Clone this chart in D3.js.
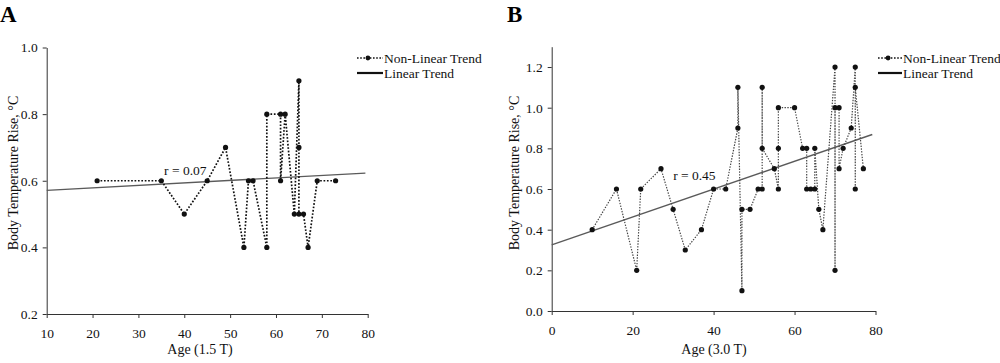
<!doctype html>
<html lang="en">
<head>
<meta charset="utf-8">
<script src="https://d3js.org/d3.v7.min.js"></script>
<title>Body Temperature Rise by Age</title>
<style>
  body { margin: 0; background: #fff; }
  svg { font-family: "Liberation Serif", "DejaVu Serif", serif; }
  .axis path, .axis line { stroke: #333; }
</style>
</head>
<body>
<svg id="chart" width="1000" height="363"></svg>
<script>
// panel A: 1.5 T
const agesA = [21, 35, 40, 45, 49, 53, 54, 55, 58, 58, 61, 61, 62, 64, 65, 65, 65, 66, 67, 69, 73];
const riseA = [0.6, 0.6, 0.5, 0.6, 0.7, 0.4, 0.6, 0.6, 0.4, 0.8, 0.8, 0.6, 0.8, 0.5, 0.9, 0.7, 0.5, 0.5, 0.4, 0.6, 0.6];
const trendA = [[10, 0.571], [79.5, 0.623]];
const xTicksA = [10, 20, 30, 40, 50, 60, 70, 80];
const yTicksA = [0.2, 0.4, 0.6, 0.8, 1.0];

// panel B: 3.0 T
const agesB = [10, 16, 21, 22, 27, 30, 33, 37, 40, 43, 46, 46, 47, 47, 49, 51, 52, 52, 52, 55, 56, 56, 56, 60, 62, 63, 63, 64, 65, 65, 66, 67, 70, 70, 70, 71, 71, 72, 74, 75, 75, 75, 77];
const riseB = [0.4, 0.6, 0.2, 0.6, 0.7, 0.5, 0.3, 0.4, 0.6, 0.6, 0.9, 1.1, 0.1, 0.5, 0.5, 0.6, 0.6, 1.1, 0.8, 0.7, 0.6, 0.8, 1.0, 1.0, 0.8, 0.8, 0.6, 0.6, 0.6, 0.8, 0.5, 0.4, 1.2, 0.2, 1.0, 1.0, 0.7, 0.8, 0.9, 1.2, 0.6, 1.1, 0.7];
const trendB = [[0, 0.325], [79.2, 0.868]];
const xTicksB = [0, 20, 40, 60, 80];
const yTicksB = [0.0, 0.2, 0.4, 0.6, 0.8, 1.0, 1.2];

const legendLabels = ['Non-Linear Trend', 'Linear Trend'];

const svg = d3.select('#chart');

function drawPanel(p) {
  const g = svg.append('g');
  const x = d3.scaleLinear().domain(p.xDomain).range(p.xRange);
  const y = d3.scaleLinear().domain(p.yDomain).range(p.yRange);

  g.append('g')
    .attr('class', 'axis')
    .attr('transform', 'translate(0,' + p.yRange[0] + ')')
    .call(d3.axisBottom(x).tickValues(p.xTicks).tickSize(4).tickSizeOuter(0).tickPadding(9))
    .call(a => a.selectAll('.tick text').attr('dy', '0.85em'));

  g.append('g')
    .attr('class', 'axis')
    .attr('transform', 'translate(' + p.xRange[0] + ',0)')
    .call(d3.axisLeft(y).tickValues(p.yTicks).tickFormat(d3.format('.1f')).tickSize(4).tickSizeOuter(0).tickPadding(5));

  g.selectAll('.axis').attr('font-family', null).attr('font-size', null);
  g.selectAll('.tick text')
    .style('font-family', '"Liberation Serif", serif')
    .style('font-size', '13.5px')
    .attr('fill', '#111');
  g.selectAll('.domain').attr('stroke', '#333');

  // linear trend
  g.append('line')
    .attr('x1', x(p.trend[0][0])).attr('y1', y(p.trend[0][1]))
    .attr('x2', x(p.trend[1][0])).attr('y2', y(p.trend[1][1]))
    .attr('stroke', '#5a5a5a')
    .attr('stroke-width', 1.4);

  const pts = p.ages.map((a, i) => ({ age: a, rise: p.rise[i] }));

  // non-linear trend
  g.append('path')
    .datum(pts)
    .attr('fill', 'none')
    .attr('stroke', p.dotColor)
    .attr('stroke-width', p.dotWidth)
    .attr('stroke-dasharray', p.dash)
    .attr('d', d3.line().x(d => x(d.age)).y(d => y(d.rise)));

  g.selectAll('circle.pt')
    .data(pts)
    .enter()
    .append('circle')
    .attr('class', 'pt')
    .attr('cx', d => x(d.age))
    .attr('cy', d => y(d.rise))
    .attr('r', 2.6)
    .attr('fill', '#111');

  g.append('text')
    .attr('x', x(p.rLabelAt[0]))
    .attr('y', y(p.rLabelAt[1]))
    .attr('font-size', 13.5)
    .attr('fill', '#111')
    .text(p.rLabel);

  // axis titles
  g.append('text')
    .attr('x', p.xTitleAt[0]).attr('y', p.xTitleAt[1])
    .attr('text-anchor', 'middle')
    .attr('font-size', 14)
    .attr('fill', '#111')
    .text(p.xTitle);

  g.append('text')
    .attr('transform', 'translate(' + p.yTitleAt[0] + ',' + p.yTitleAt[1] + ') rotate(-90)')
    .attr('text-anchor', 'middle')
    .attr('font-size', 14)
    .attr('fill', '#111')
    .text('Body Temperature Rise, °C');

  // panel letter
  g.append('text')
    .attr('x', p.letterAt[0]).attr('y', p.letterAt[1])
    .attr('font-size', 23)
    .attr('font-weight', 'bold')
    .attr('fill', '#000')
    .text(p.letter);

  // legend
  const lx = p.legendAt[0], ly = p.legendAt[1];
  const leg = g.append('g').attr('transform', 'translate(' + lx + ',' + ly + ')');
  leg.append('line')
    .attr('x1', 0).attr('x2', p.legendLen).attr('y1', 0).attr('y2', 0)
    .attr('stroke', '#111').attr('stroke-width', 1.6).attr('stroke-dasharray', '1.6,1.6');
  leg.append('circle').attr('cx', p.legendLen * 0.42).attr('cy', 0).attr('r', 2.4).attr('fill', '#111');
  leg.append('line')
    .attr('x1', 0).attr('x2', p.legendLen).attr('y1', 15).attr('y2', 15)
    .attr('stroke', '#111').attr('stroke-width', 2.2);
  leg.selectAll('text')
    .data(legendLabels)
    .enter()
    .append('text')
    .attr('x', p.legendLen + 1)
    .attr('y', (d, i) => i * 15 + 4.5)
    .attr('font-size', 13.5)
    .attr('fill', '#111')
    .text(d => d);
}

drawPanel({
  ages: agesA, rise: riseA, trend: trendA,
  xDomain: [10, 80], xRange: [46.7, 367.7],
  yDomain: [0.2, 1.0], yRange: [314, 47.5],
  xTicks: xTicksA, yTicks: yTicksA,
  dotColor: '#111', dotWidth: 1.7, dash: '1.7,1.7',
  rLabel: 'r = 0.07', rLabelAt: [35.6, 0.617],
  xTitle: 'Age (1.5 T)', xTitleAt: [200, 354],
  yTitleAt: [18, 173],
  letter: 'A', letterAt: [0, 22],
  legendAt: [357, 58], legendLen: 26
});

drawPanel({
  ages: agesB, rise: riseB, trend: trendB,
  xDomain: [0, 80], xRange: [551.7, 875.5],
  yDomain: [0, 1.3], yRange: [311, 46.7],
  xTicks: xTicksB, yTicks: yTicksB,
  dotColor: '#444', dotWidth: 1.2, dash: '1.4,1.4',
  rLabel: 'r = 0.45', rLabelAt: [30, 0.645],
  xTitle: 'Age (3.0 T)', xTitleAt: [714, 354],
  yTitleAt: [519, 173],
  letter: 'B', letterAt: [507, 22],
  legendAt: [878, 58], legendLen: 24
});
</script>
</body>
</html>
